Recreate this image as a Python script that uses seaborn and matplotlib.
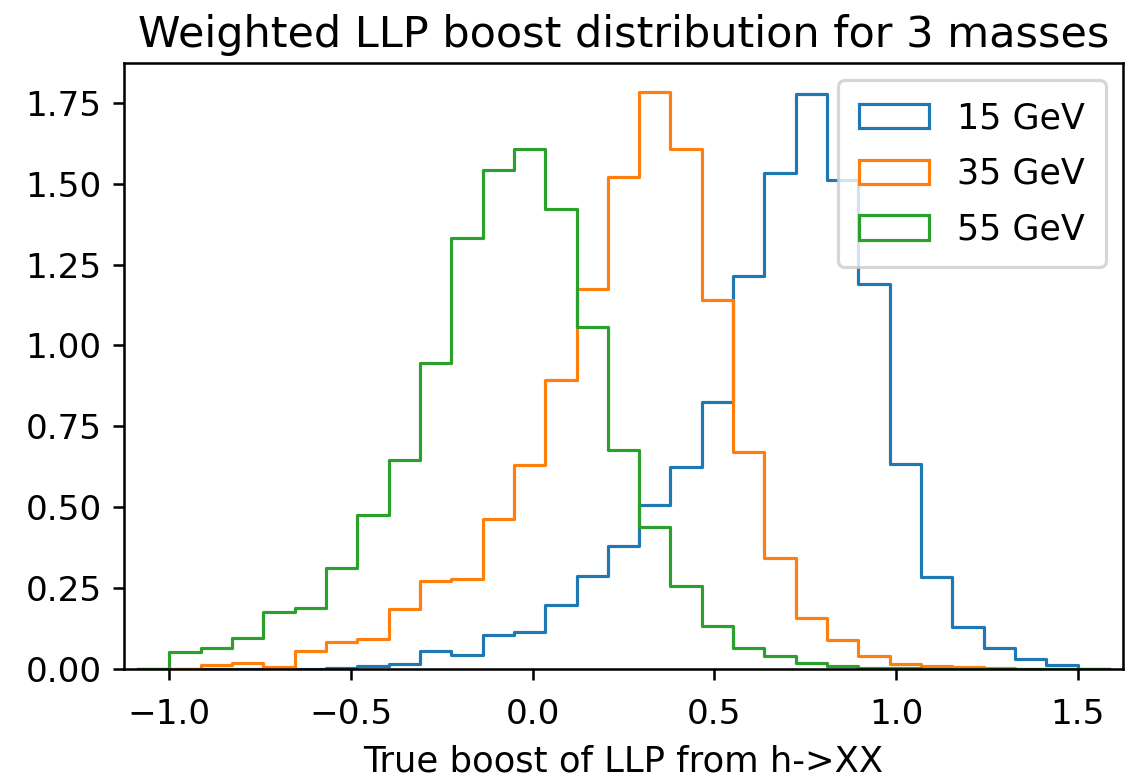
import numpy as np
import pandas as pd
import matplotlib
matplotlib.use("Agg")
import matplotlib.pyplot as plt
from matplotlib.patches import Patch
import seaborn as sns

# ---- data ----
x_lo, x_hi, n_bins = -1.0, 1.5, 29
labels = ["15 GeV", "35 GeV", "55 GeV"]
colors = ["#1f77b4", "#ff7f0e", "#2ca02c"]

h15 = [0, 0, 0, 0, 0, 0.003, 0.009, 0.015, 0.055, 0.042,
       0.106, 0.113, 0.199, 0.287, 0.379, 0.508, 0.624, 0.826, 1.216, 1.534,
       1.776, 1.510, 1.191, 0.635, 0.284, 0.130, 0.064, 0.030, 0.011]
h35 = [0, 0.012, 0.018, 0.006, 0.057, 0.083, 0.092, 0.187, 0.273, 0.278,
       0.463, 0.630, 0.894, 1.176, 1.521, 1.784, 1.608, 1.142, 0.672, 0.343,
       0.158, 0.089, 0.040, 0.014, 0.010, 0.005, 0.002, 0.001, 0]
h55 = [0.054, 0.064, 0.095, 0.175, 0.190, 0.313, 0.475, 0.645, 0.946, 1.333,
       1.541, 1.606, 1.423, 1.057, 0.678, 0.438, 0.256, 0.132, 0.065, 0.039,
       0.019, 0.008, 0.004, 0.002, 0.001, 0.001, 0, 0, 0]
series = [h15, h35, h55]

title = "Weighted LLP boost distribution for 3 masses"
xlabel = "True boost of LLP from h->XX"
xticks = [-1.0, -0.5, 0.0, 0.5, 1.0, 1.5]
yticks = [0.0, 0.25, 0.5, 0.75, 1.0, 1.25, 1.5, 1.75]

# ---- figure ----
plt.rcParams["font.family"] = ["DejaVu Sans"]
plt.rcParams["font.size"] = 11
DPI = 228
fig = plt.figure(figsize=(1132 / DPI, 784 / DPI), dpi=DPI)
ax = fig.add_axes([124 / 1132, (784 - 669) / 784, 999 / 1132, 606 / 784])

edges = np.linspace(x_lo, x_hi, n_bins + 1)
w = edges[1] - edges[0]
pad_edges = np.concatenate([[edges[0] - w], edges, [edges[-1] + w]])
pad_centers = (pad_edges[:-1] + pad_edges[1:]) / 2

for h, c in zip(series, colors):
    df = pd.DataFrame({
        "boost": pad_centers,
        "weight": np.concatenate([[0.0], np.asarray(h, float), [0.0]]),
    })
    sns.histplot(data=df, x="boost", weights="weight", bins=list(pad_edges),
                 stat="count", element="step", fill=False, color=c,
                 linewidth=1.0, ax=ax)

ymax = max(max(s) for s in series)
ax.set_xlim(x_lo - 0.05 * (x_hi - x_lo), x_hi + 0.05 * (x_hi - x_lo))
ax.set_ylim(0, ymax * 1.05)
ax.set_xticks(xticks)
ax.set_yticks(yticks)
ax.tick_params(labelsize=10.8)
ax.tick_params(axis="x", pad=5.5)
ax.set_ylabel("")
ax.set_xlabel(xlabel, fontsize=11.2, labelpad=4.5)
ax.set_title(title, fontsize=13.6, pad=5)

handles = [Patch(facecolor="none", edgecolor=c, linewidth=1.0, label=l)
           for c, l in zip(colors, labels)]
ax.legend(handles=handles, loc="upper right", fontsize=11,
          labelspacing=0.62, borderpad=0.6)

fig.savefig("out.png", dpi=DPI)
